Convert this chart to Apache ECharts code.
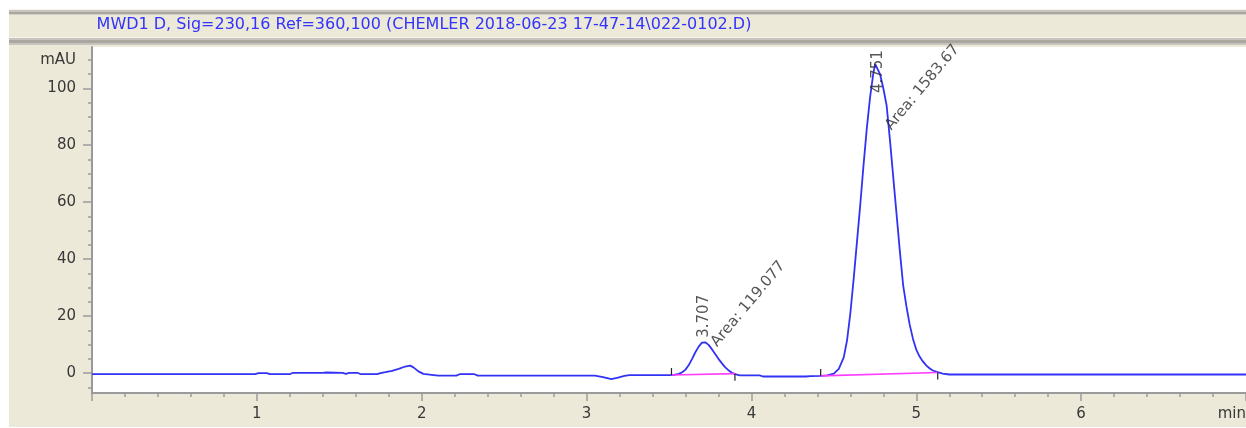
<!DOCTYPE html>
<html><head><meta charset="utf-8">
<script src="https://cdn.jsdelivr.net/npm/echarts@6/dist/echarts.min.js"></script>
<style>html,body{margin:0;padding:0;background:#fff;overflow:hidden;width:100%;height:100%;}#c{position:absolute;left:9px;right:0;top:9px;bottom:1px;}</style>
</head><body><div id="c"></div>
<script>
// ---------- data ----------
const titleText = 'MWD1 D, Sig=230,16 Ref=360,100 (CHEMLER 2018-06-23 17-47-14\\022-0102.D)';
const timeMin = [
  0.00, 0.99, 1.01, 1.06, 1.08, 1.20, 1.22, 1.40, 1.42, 1.52, 1.54, 1.56, 1.61, 1.63, 1.73, 1.75,
  1.78, 1.82, 1.86, 1.90, 1.93, 1.95, 1.98, 2.01, 2.06, 2.10, 2.21, 2.23, 2.32, 2.34, 2.37, 2.38,
  2.39, 2.55, 2.56, 2.57, 3.05, 3.10, 3.15, 3.19, 3.23, 3.26, 3.50, 3.53, 3.56, 3.58, 3.60, 3.62,
  3.64, 3.66, 3.68, 3.70, 3.71, 3.72, 3.74, 3.76, 3.78, 3.80, 3.82, 3.84, 3.86, 3.88, 3.90, 3.93,
  4.05, 4.07, 4.17, 4.18, 4.20, 4.33, 4.34, 4.36, 4.42, 4.46, 4.50, 4.53, 4.56, 4.58, 4.60, 4.62,
  4.64, 4.66, 4.68, 4.70, 4.72, 4.74, 4.751, 4.76, 4.78, 4.80, 4.82, 4.84, 4.86, 4.88, 4.90, 4.92,
  4.94, 4.96, 4.98, 5.00, 5.02, 5.04, 5.06, 5.08, 5.10, 5.13, 5.16, 5.20, 7.00
];
const signalMAU = [
  -0.4, -0.4, 0.0, 0.0, -0.4, -0.4, 0.1, 0.1, 0.2, 0.1, -0.3, 0.1, 0.1, -0.4, -0.4, 0.0,
  0.3, 0.8, 1.5, 2.3, 2.6, 2.0, 0.6, -0.3, -0.6, -0.9, -0.9, -0.4, -0.4, -0.9, -0.9, -0.5,
  -0.9, -0.9, -0.5, -0.9, -0.9, -1.4, -2.1, -1.6, -1.0, -0.7, -0.7, -0.6, -0.3, 0.3, 1.2, 2.8,
  5.0, 7.3, 9.3, 10.7, 11.0, 10.8, 9.9, 8.4, 6.7, 5.0, 3.5, 2.1, 1.0, 0.2, -0.4, -0.8,
  -0.8, -1.2, -1.2, -0.7, -1.2, -1.2, -0.7, -1.1, -1.0, -0.8, -0.2, 1.5, 5.5, 11.5, 21, 33,
  46, 59, 73, 86, 97, 105.5, 108.5, 108.2, 105, 100, 94, 82, 69, 56, 43, 31,
  23.5, 17, 12, 8.2, 5.8, 4.1, 2.7, 1.7, 0.9, 0.3, -0.2, -0.5, -0.5
];
const peakRT = [3.707, 4.751];
const peakHeight = [11.0, 108.5];
const peakArea = ['119.077', '1583.67'];
// integration baselines (start/end time and level)
const baseStartT = [3.515, 4.42];
const baseStartV = [-0.7, -1.0];
const baseEndT = [3.90, 5.13];
const baseEndV = [-0.2, 0.2];
const xTickLabels = ['', '1', '2', '3', '4', '5', '6', 'min'];
const yMajorTicks = [0, 20, 40, 60, 80, 100];
const yLabelValues = [0, 20, 40, 60, 80, 100, 110];
const yLabelText = ['0', '20', '40', '60', '80', '100', 'mAU'];
const yMinorTicks = [-5, 5, 10, 15, 25, 30, 35, 45, 50, 55, 65, 70, 75, 85, 90, 95, 105, 110];

// ---------- chart ----------
const FONT = 'DejaVu Sans';
const axisGray = '#9a9a9a';
const labelColor = '#383838';
const annColor = '#2a2a2a';
const chart = echarts.init(document.getElementById('c'));

const signalData = timeMin.map((t, i) => [t, signalMAU[i]]);
const eventData = [];
baseStartT.forEach((t, i) => { eventData.push([t, baseStartV[i], 1]); eventData.push([baseEndT[i], baseEndV[i], -1]); });

// screen-space offsets converted into the rotated label frame
function localOffset(dx, dy, deg) {
  const r = deg * Math.PI / 180, c = Math.cos(r), s = Math.sin(r);
  return [dx * c - dy * s, dx * s + dy * c];
}
const rtShift = [[1, -4], [3, 29]];
const areaShift = [[11, 3], [13, 64]];
const AREA_ROT = 50;
const annData = [];
peakRT.forEach((rt, i) => {
  annData.push({ value: [rt, peakHeight[i]], label: { formatter: rt.toFixed(3), rotate: 90, offset: localOffset(rtShift[i][0], rtShift[i][1], 90) } });
  annData.push({ value: [rt, peakHeight[i]], label: { formatter: 'Area: ' + peakArea[i], rotate: AREA_ROT, offset: localOffset(areaShift[i][0], areaShift[i][1], AREA_ROT) } });
});

const pinkSeries = baseStartT.map((t, i) => ({
  type: 'line', data: [[t, baseStartV[i]], [baseEndT[i], baseEndV[i]]], showSymbol: false, silent: true,
  lineStyle: { color: '#ff3cff', width: 1.6 }, z: 4, xAxisIndex: 0, yAxisIndex: 0
}));

const W = 1237;
const option = {
  backgroundColor: '#ece9d8',
  animation: false,
  grid: { left: 83, right: 0, top: 38, bottom: 34, show: true, backgroundColor: '#ffffff', borderWidth: 0, containLabel: false, outerBoundsMode: 'none' },
  graphic: [
    { type: 'rect', shape: { x: 0, y: 0, width: W, height: 1 }, style: { fill: '#f6f4ec' }, silent: true },
    { type: 'rect', shape: { x: 0, y: 1, width: W, height: 2 }, style: { fill: '#c6c4bc' }, silent: true },
    { type: 'rect', shape: { x: 0, y: 3, width: W, height: 2 }, style: { fill: '#a9a7a0' }, silent: true },
    { type: 'rect', shape: { x: 0, y: 5, width: W, height: 1 }, style: { fill: '#d2d0c8' }, silent: true },
    { type: 'rect', shape: { x: 0, y: 28, width: W, height: 1 }, style: { fill: '#f6f4ec' }, silent: true },
    { type: 'rect', shape: { x: 0, y: 29, width: W, height: 2 }, style: { fill: '#c6c4bc' }, silent: true },
    { type: 'rect', shape: { x: 0, y: 31, width: W, height: 3 }, style: { fill: '#a9a7a0' }, silent: true },
    { type: 'rect', shape: { x: 0, y: 34, width: W, height: 2 }, style: { fill: '#c6c4bc' }, silent: true },
    { type: 'text', x: 415, y: 16, silent: true,
      style: { text: titleText, font: '16px "DejaVu Sans"', fill: '#3333ff', align: 'center', verticalAlign: 'middle', textAlign: 'center', textVerticalAlign: 'middle' } }
  ],
  xAxis: {
    type: 'value', min: 0, max: 7, interval: 1,
    axisLine: { show: true, onZero: false, lineStyle: { color: axisGray, width: 2 } },
    axisTick: { show: true, length: 8, lineStyle: { color: axisGray, width: 1.5 } },
    minorTick: { show: true, splitNumber: 5, length: 4, lineStyle: { color: axisGray, width: 1.5 } },
    axisLabel: { formatter: v => xTickLabels[Math.round(v)] || '', color: labelColor, fontFamily: FONT, fontSize: 15, margin: 14, alignMaxLabel: 'right' },
    splitLine: { show: false }, minorSplitLine: { show: false }
  },
  yAxis: [
    {
      type: 'value', min: -7, max: 114.5, position: 'left',
      axisLine: { show: true, lineStyle: { color: axisGray, width: 2 } },
      axisTick: { show: true, customValues: yMajorTicks, length: 9, lineStyle: { color: axisGray, width: 1.5 } },
      axisLabel: { customValues: yLabelValues, formatter: v => yLabelText[yLabelValues.indexOf(v)] ?? String(v), color: labelColor, fontFamily: FONT, fontSize: 15, margin: 16 },
      splitLine: { show: false }
    },
    {
      type: 'value', min: -7, max: 114.5, position: 'left', offset: 0,
      axisLine: { show: false },
      axisTick: { show: true, customValues: yMinorTicks, length: 4, lineStyle: { color: axisGray, width: 1.5 } },
      axisLabel: { show: false },
      splitLine: { show: false }
    }
  ],
  series: [
    {
      type: 'line', data: signalData, showSymbol: false, silent: true,
      lineStyle: { color: '#3232f5', width: 1.8 }, z: 3
    },
    ...pinkSeries,
    {
      type: 'custom', silent: true, z: 5, data: eventData,
      renderItem: (params, api) => {
        const p = api.coord([api.value(0), api.value(1)]);
        const d = api.value(2);
        return { type: 'line', shape: { x1: p[0], y1: p[1], x2: p[0], y2: p[1] - d * 7 }, style: { stroke: '#222', lineWidth: 1.2 } };
      }
    },
    {
      type: 'scatter', data: annData, symbolSize: 0, silent: true, z: 6,
      label: { show: true, position: 'inside', align: 'left', verticalAlign: 'middle', color: annColor, fontFamily: FONT, fontSize: 15 }
    }
  ]
};
chart.setOption(option);
</script></body></html>
